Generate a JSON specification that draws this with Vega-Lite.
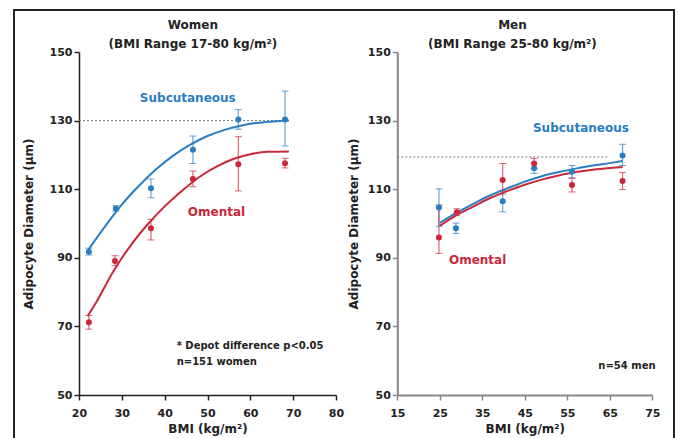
{
  "$schema": "https://vega.github.io/schema/vega-lite/v6.json",
  "width": 660,
  "height": 430,
  "autosize": {"type": "none"},
  "padding": {"left": 14, "top": 10, "right": 4, "bottom": 0},
  "background": "white",
  "config": {
    "view": {"stroke": "#222", "strokeWidth": 2},
    "font": "DejaVu Sans",
    "axis": {
      "grid": false,
      "labelFont": "DejaVu Sans", "labelFontWeight": "bold", "labelFontSize": 11, "labelColor": "#222",
      "titleFont": "DejaVu Sans", "titleFontWeight": "bold", "titleFontSize": 12, "titleColor": "#222",
      "tickSize": 5, "domainColor": "#222", "tickColor": "#222", "domainWidth": 1.5, "tickWidth": 1.5,
      "labelFlush": false, "labelOverlap": false
    }
  },
  "datasets": {
    "pts": [
      {"panel": "Women", "depot": "Subcutaneous", "bmi": 22.3, "d": 91.8, "lo": 90.8, "hi": 92.8},
      {"panel": "Women", "depot": "Subcutaneous", "bmi": 28.6, "d": 104.4, "lo": 103.6, "hi": 105.2},
      {"panel": "Women", "depot": "Subcutaneous", "bmi": 36.8, "d": 110.3, "lo": 107.5, "hi": 113.0},
      {"panel": "Women", "depot": "Subcutaneous", "bmi": 46.6, "d": 121.5, "lo": 117.5, "hi": 125.5},
      {"panel": "Women", "depot": "Subcutaneous", "bmi": 57.2, "d": 130.3, "lo": 127.5, "hi": 133.2},
      {"panel": "Women", "depot": "Subcutaneous", "bmi": 68.1, "d": 130.3, "lo": 122.6, "hi": 138.6},
      {"panel": "Women", "depot": "Omental", "bmi": 22.3, "d": 71.2, "lo": 69.2, "hi": 73.2},
      {"panel": "Women", "depot": "Omental", "bmi": 28.4, "d": 89.1, "lo": 87.7, "hi": 90.6},
      {"panel": "Women", "depot": "Omental", "bmi": 36.8, "d": 98.6, "lo": 95.2, "hi": 101.2},
      {"panel": "Women", "depot": "Omental", "bmi": 46.6, "d": 113.0, "lo": 110.7, "hi": 115.3},
      {"panel": "Women", "depot": "Omental", "bmi": 57.2, "d": 117.3, "lo": 109.5, "hi": 125.3},
      {"panel": "Women", "depot": "Omental", "bmi": 68.1, "d": 117.6, "lo": 116.2, "hi": 119.0},
      {"panel": "Men", "depot": "Subcutaneous", "bmi": 24.8, "d": 104.7, "lo": 99.2, "hi": 110.1},
      {"panel": "Men", "depot": "Subcutaneous", "bmi": 28.8, "d": 98.6, "lo": 97.1, "hi": 100.1},
      {"panel": "Men", "depot": "Subcutaneous", "bmi": 39.8, "d": 106.5, "lo": 103.4, "hi": 109.6},
      {"panel": "Men", "depot": "Subcutaneous", "bmi": 47.2, "d": 116.1, "lo": 114.6, "hi": 117.6},
      {"panel": "Men", "depot": "Subcutaneous", "bmi": 56.1, "d": 115.1, "lo": 113.3, "hi": 116.9},
      {"panel": "Men", "depot": "Subcutaneous", "bmi": 68.0, "d": 119.8, "lo": 116.9, "hi": 123.1},
      {"panel": "Men", "depot": "Omental", "bmi": 24.8, "d": 95.9, "lo": 91.3, "hi": 105.4},
      {"panel": "Men", "depot": "Omental", "bmi": 29.0, "d": 103.3, "lo": 102.3, "hi": 104.3},
      {"panel": "Men", "depot": "Omental", "bmi": 39.8, "d": 112.7, "lo": 108.6, "hi": 117.5},
      {"panel": "Men", "depot": "Omental", "bmi": 47.2, "d": 117.5, "lo": 116.0, "hi": 119.0},
      {"panel": "Men", "depot": "Omental", "bmi": 56.1, "d": 111.2, "lo": 109.2, "hi": 113.2},
      {"panel": "Men", "depot": "Omental", "bmi": 68.0, "d": 112.4, "lo": 109.9, "hi": 114.9}
    ],
    "fits": [
      {"panel": "Women", "depot": "Subcutaneous", "bmi": 22, "d": 92.0},
      {"panel": "Women", "depot": "Subcutaneous", "bmi": 26, "d": 99.0},
      {"panel": "Women", "depot": "Subcutaneous", "bmi": 30, "d": 105.5},
      {"panel": "Women", "depot": "Subcutaneous", "bmi": 34, "d": 111.0},
      {"panel": "Women", "depot": "Subcutaneous", "bmi": 38, "d": 115.8},
      {"panel": "Women", "depot": "Subcutaneous", "bmi": 42, "d": 119.8},
      {"panel": "Women", "depot": "Subcutaneous", "bmi": 46, "d": 123.0},
      {"panel": "Women", "depot": "Subcutaneous", "bmi": 50, "d": 125.5},
      {"panel": "Women", "depot": "Subcutaneous", "bmi": 54, "d": 127.3},
      {"panel": "Women", "depot": "Subcutaneous", "bmi": 58, "d": 128.6},
      {"panel": "Women", "depot": "Subcutaneous", "bmi": 62, "d": 129.4},
      {"panel": "Women", "depot": "Subcutaneous", "bmi": 66, "d": 129.8},
      {"panel": "Women", "depot": "Subcutaneous", "bmi": 69, "d": 130.0},
      {"panel": "Women", "depot": "Omental", "bmi": 22, "d": 73.0},
      {"panel": "Women", "depot": "Omental", "bmi": 24, "d": 77.0},
      {"panel": "Women", "depot": "Omental", "bmi": 28, "d": 86.0},
      {"panel": "Women", "depot": "Omental", "bmi": 32, "d": 93.5},
      {"panel": "Women", "depot": "Omental", "bmi": 36, "d": 99.7},
      {"panel": "Women", "depot": "Omental", "bmi": 40, "d": 105.0},
      {"panel": "Women", "depot": "Omental", "bmi": 44, "d": 109.5},
      {"panel": "Women", "depot": "Omental", "bmi": 48, "d": 113.5},
      {"panel": "Women", "depot": "Omental", "bmi": 52, "d": 116.5},
      {"panel": "Women", "depot": "Omental", "bmi": 56, "d": 118.8},
      {"panel": "Women", "depot": "Omental", "bmi": 60, "d": 120.2},
      {"panel": "Women", "depot": "Omental", "bmi": 64, "d": 120.9},
      {"panel": "Women", "depot": "Omental", "bmi": 69, "d": 121.0},
      {"panel": "Men", "depot": "Subcutaneous", "bmi": 25, "d": 100.2},
      {"panel": "Men", "depot": "Subcutaneous", "bmi": 29, "d": 103.2},
      {"panel": "Men", "depot": "Subcutaneous", "bmi": 33, "d": 105.8},
      {"panel": "Men", "depot": "Subcutaneous", "bmi": 37, "d": 108.3},
      {"panel": "Men", "depot": "Subcutaneous", "bmi": 41, "d": 110.3},
      {"panel": "Men", "depot": "Subcutaneous", "bmi": 45, "d": 112.2},
      {"panel": "Men", "depot": "Subcutaneous", "bmi": 49, "d": 113.8},
      {"panel": "Men", "depot": "Subcutaneous", "bmi": 53, "d": 115.0},
      {"panel": "Men", "depot": "Subcutaneous", "bmi": 57, "d": 116.0},
      {"panel": "Men", "depot": "Subcutaneous", "bmi": 61, "d": 116.9},
      {"panel": "Men", "depot": "Subcutaneous", "bmi": 65, "d": 117.6},
      {"panel": "Men", "depot": "Subcutaneous", "bmi": 68, "d": 118.2},
      {"panel": "Men", "depot": "Omental", "bmi": 25, "d": 99.3},
      {"panel": "Men", "depot": "Omental", "bmi": 29, "d": 102.5},
      {"panel": "Men", "depot": "Omental", "bmi": 33, "d": 105.0},
      {"panel": "Men", "depot": "Omental", "bmi": 37, "d": 107.5},
      {"panel": "Men", "depot": "Omental", "bmi": 41, "d": 109.5},
      {"panel": "Men", "depot": "Omental", "bmi": 45, "d": 111.3},
      {"panel": "Men", "depot": "Omental", "bmi": 49, "d": 112.8},
      {"panel": "Men", "depot": "Omental", "bmi": 53, "d": 114.0},
      {"panel": "Men", "depot": "Omental", "bmi": 57, "d": 115.0},
      {"panel": "Men", "depot": "Omental", "bmi": 61, "d": 115.7},
      {"panel": "Men", "depot": "Omental", "bmi": 65, "d": 116.2},
      {"panel": "Men", "depot": "Omental", "bmi": 68, "d": 116.5}
    ],
    "refs": [
      {"panel": "Women", "from": 20, "to": 69.5, "level": 130},
      {"panel": "Men", "from": 15, "to": 64.8, "level": 119.4}
    ],
    "titles": [
      {"panel": "Women", "text": "Women", "bmi": 46.6, "d": 158.0},
      {"panel": "Women", "text": "(BMI Range 17-80 kg/m²)", "bmi": 46.6, "d": 152.4},
      {"panel": "Men", "text": "Men", "bmi": 42.1, "d": 158.0},
      {"panel": "Men", "text": "(BMI Range 25-80 kg/m²)", "bmi": 42.1, "d": 152.4}
    ],
    "labels": [
      {"panel": "Women", "depot": "Subcutaneous", "text": "Subcutaneous", "bmi": 45.4, "d": 136.7},
      {"panel": "Women", "depot": "Omental", "text": "Omental", "bmi": 52.1, "d": 103.4},
      {"panel": "Men", "depot": "Subcutaneous", "text": "Subcutaneous", "bmi": 58.2, "d": 127.7},
      {"panel": "Men", "depot": "Omental", "text": "Omental", "bmi": 33.9, "d": 89.4}
    ],
    "notes": [
      {"panel": "Women", "text": "* Depot difference p<0.05", "bmi": 42.8, "d": 64.4},
      {"panel": "Women", "text": "n=151 women", "bmi": 42.8, "d": 59.7},
      {"panel": "Men", "text": "n=54 men", "bmi": 62.3, "d": 58.5}
    ]
  },
  "layer": [
    {
      "layer": [
        {
          "data": {"name": "refs"},
          "transform": [{"filter": "datum.panel === 'Women'"}],
          "mark": {"type": "rule", "strokeDash": [2, 2], "color": "#777", "strokeWidth": 1},
          "encoding": {
            "x": {"field": "from", "type": "quantitative", "title": "BMI (kg/m²)",
                  "scale": {"domain": [20, 80], "range": [65, 322], "zero": false, "nice": false},
                  "axis": {"orient": "bottom", "offset": -45, "values": [20, 30, 40, 50, 60, 70, 80], "title": "BMI (kg/m²)", "labelPadding": 7, "titlePadding": 5}},
            "x2": {"field": "to"},
            "y": {"field": "level", "type": "quantitative", "title": "Adipocyte Diameter (µm)",
                  "scale": {"domain": [50, 150], "range": [385, 42], "zero": false, "nice": false},
                  "axis": {"orient": "left", "offset": -65, "values": [50, 70, 90, 110, 130, 150], "title": "Adipocyte Diameter (µm)", "labelPadding": 2, "titlePadding": 14}}
          }
        },
        {
          "data": {"name": "fits"},
          "transform": [{"filter": "datum.panel === 'Women'"}],
          "mark": {"type": "line", "strokeWidth": 2, "interpolate": "monotone"},
          "encoding": {
            "x": {"field": "bmi", "type": "quantitative", "title": "BMI (kg/m²)", "scale": {"domain": [20, 80], "range": [65, 322], "zero": false, "nice": false}},
            "y": {"field": "d", "type": "quantitative", "title": "Adipocyte Diameter (µm)", "scale": {"domain": [50, 150], "range": [385, 42], "zero": false, "nice": false}},
            "color": {"field": "depot", "type": "nominal", "scale": {"domain": ["Subcutaneous", "Omental"], "range": ["#2a7dc2", "#c9283b"]}, "legend": null}
          }
        },
        {
          "data": {"name": "pts"},
          "transform": [{"filter": "datum.panel === 'Women'"}],
          "mark": {"type": "errorbar", "ticks": {"size": 7, "opacity": 0.7}, "rule": {"opacity": 0.7, "strokeWidth": 1.2}},
          "encoding": {
            "x": {"field": "bmi", "type": "quantitative", "title": "BMI (kg/m²)", "scale": {"domain": [20, 80], "range": [65, 322], "zero": false, "nice": false}},
            "y": {"field": "lo", "type": "quantitative", "title": "Adipocyte Diameter (µm)", "scale": {"domain": [50, 150], "range": [385, 42], "zero": false, "nice": false}},
            "y2": {"field": "hi"},
            "color": {"field": "depot", "type": "nominal", "legend": null}
          }
        },
        {
          "data": {"name": "pts"},
          "transform": [{"filter": "datum.panel === 'Women'"}],
          "mark": {"type": "circle", "size": 36, "opacity": 1},
          "encoding": {
            "x": {"field": "bmi", "type": "quantitative", "title": "BMI (kg/m²)", "scale": {"domain": [20, 80], "range": [65, 322], "zero": false, "nice": false}},
            "y": {"field": "d", "type": "quantitative", "title": "Adipocyte Diameter (µm)", "scale": {"domain": [50, 150], "range": [385, 42], "zero": false, "nice": false}},
            "color": {"field": "depot", "type": "nominal", "legend": null}
          }
        },
        {
          "data": {"name": "labels"},
          "transform": [{"filter": "datum.panel === 'Women'"}],
          "mark": {"type": "text", "font": "DejaVu Sans", "fontWeight": "bold", "fontSize": 12, "align": "center", "baseline": "middle"},
          "encoding": {
            "x": {"field": "bmi", "type": "quantitative", "title": "BMI (kg/m²)", "scale": {"domain": [20, 80], "range": [65, 322], "zero": false, "nice": false}},
            "y": {"field": "d", "type": "quantitative", "title": "Adipocyte Diameter (µm)", "scale": {"domain": [50, 150], "range": [385, 42], "zero": false, "nice": false}},
            "text": {"field": "text"},
            "color": {"field": "depot", "type": "nominal", "legend": null}
          }
        },
        {
          "data": {"name": "notes"},
          "transform": [{"filter": "datum.panel === 'Women'"}],
          "mark": {"type": "text", "font": "DejaVu Sans", "fontWeight": "bold", "fontSize": 10, "align": "left", "baseline": "middle", "color": "#222"},
          "encoding": {
            "x": {"field": "bmi", "type": "quantitative", "title": "BMI (kg/m²)", "scale": {"domain": [20, 80], "range": [65, 322], "zero": false, "nice": false}},
            "y": {"field": "d", "type": "quantitative", "title": "Adipocyte Diameter (µm)", "scale": {"domain": [50, 150], "range": [385, 42], "zero": false, "nice": false}},
            "text": {"field": "text"}
          }
        },
        {
          "data": {"name": "titles"},
          "transform": [{"filter": "datum.panel === 'Women'"}],
          "mark": {"type": "text", "font": "DejaVu Sans", "fontWeight": "bold", "fontSize": 12, "align": "center", "baseline": "middle", "color": "#222"},
          "encoding": {
            "x": {"field": "bmi", "type": "quantitative", "title": "BMI (kg/m²)", "scale": {"domain": [20, 80], "range": [65, 322], "zero": false, "nice": false}},
            "y": {"field": "d", "type": "quantitative", "title": "Adipocyte Diameter (µm)", "scale": {"domain": [50, 150], "range": [385, 42], "zero": false, "nice": false}},
            "text": {"field": "text"}
          }
        }
      ]
    },
    {
      "layer": [
        {
          "data": {"name": "refs"},
          "transform": [{"filter": "datum.panel === 'Men'"}],
          "mark": {"type": "rule", "strokeDash": [2, 2], "color": "#777", "strokeWidth": 1},
          "encoding": {
            "x": {"field": "from", "type": "quantitative", "title": "BMI (kg/m²)",
                  "scale": {"domain": [15, 75], "range": [383.3, 638.3], "zero": false, "nice": false},
                  "axis": {"orient": "bottom", "offset": -45, "values": [15, 25, 35, 45, 55, 65, 75], "title": "BMI (kg/m²)", "labelPadding": 7, "titlePadding": 5, "domainColor": "#888", "tickColor": "#888", "domainWidth": 2}},
            "x2": {"field": "to"},
            "y": {"field": "level", "type": "quantitative", "title": "Adipocyte Diameter (µm)",
                  "scale": {"domain": [50, 150], "range": [385, 42], "zero": false, "nice": false},
                  "axis": {"orient": "left", "offset": -383.3, "values": [50, 70, 90, 110, 130, 150], "title": "Adipocyte Diameter (µm)", "labelPadding": 2, "titlePadding": 7, "domainColor": "#888", "tickColor": "#888", "domainWidth": 2}}
          }
        },
        {
          "data": {"name": "fits"},
          "transform": [{"filter": "datum.panel === 'Men'"}],
          "mark": {"type": "line", "strokeWidth": 2, "interpolate": "monotone"},
          "encoding": {
            "x": {"field": "bmi", "type": "quantitative", "title": "BMI (kg/m²)", "scale": {"domain": [15, 75], "range": [383.3, 638.3], "zero": false, "nice": false}},
            "y": {"field": "d", "type": "quantitative", "title": "Adipocyte Diameter (µm)", "scale": {"domain": [50, 150], "range": [385, 42], "zero": false, "nice": false}},
            "color": {"field": "depot", "type": "nominal", "legend": null}
          }
        },
        {
          "data": {"name": "pts"},
          "transform": [{"filter": "datum.panel === 'Men'"}],
          "mark": {"type": "errorbar", "ticks": {"size": 7, "opacity": 0.7}, "rule": {"opacity": 0.7, "strokeWidth": 1.2}},
          "encoding": {
            "x": {"field": "bmi", "type": "quantitative", "title": "BMI (kg/m²)", "scale": {"domain": [15, 75], "range": [383.3, 638.3], "zero": false, "nice": false}},
            "y": {"field": "lo", "type": "quantitative", "title": "Adipocyte Diameter (µm)", "scale": {"domain": [50, 150], "range": [385, 42], "zero": false, "nice": false}},
            "y2": {"field": "hi"},
            "color": {"field": "depot", "type": "nominal", "legend": null}
          }
        },
        {
          "data": {"name": "pts"},
          "transform": [{"filter": "datum.panel === 'Men'"}],
          "mark": {"type": "circle", "size": 36, "opacity": 1},
          "encoding": {
            "x": {"field": "bmi", "type": "quantitative", "title": "BMI (kg/m²)", "scale": {"domain": [15, 75], "range": [383.3, 638.3], "zero": false, "nice": false}},
            "y": {"field": "d", "type": "quantitative", "title": "Adipocyte Diameter (µm)", "scale": {"domain": [50, 150], "range": [385, 42], "zero": false, "nice": false}},
            "color": {"field": "depot", "type": "nominal", "legend": null}
          }
        },
        {
          "data": {"name": "labels"},
          "transform": [{"filter": "datum.panel === 'Men'"}],
          "mark": {"type": "text", "font": "DejaVu Sans", "fontWeight": "bold", "fontSize": 12, "align": "center", "baseline": "middle"},
          "encoding": {
            "x": {"field": "bmi", "type": "quantitative", "title": "BMI (kg/m²)", "scale": {"domain": [15, 75], "range": [383.3, 638.3], "zero": false, "nice": false}},
            "y": {"field": "d", "type": "quantitative", "title": "Adipocyte Diameter (µm)", "scale": {"domain": [50, 150], "range": [385, 42], "zero": false, "nice": false}},
            "text": {"field": "text"},
            "color": {"field": "depot", "type": "nominal", "legend": null}
          }
        },
        {
          "data": {"name": "notes"},
          "transform": [{"filter": "datum.panel === 'Men'"}],
          "mark": {"type": "text", "font": "DejaVu Sans", "fontWeight": "bold", "fontSize": 10, "align": "left", "baseline": "middle", "color": "#222"},
          "encoding": {
            "x": {"field": "bmi", "type": "quantitative", "title": "BMI (kg/m²)", "scale": {"domain": [15, 75], "range": [383.3, 638.3], "zero": false, "nice": false}},
            "y": {"field": "d", "type": "quantitative", "title": "Adipocyte Diameter (µm)", "scale": {"domain": [50, 150], "range": [385, 42], "zero": false, "nice": false}},
            "text": {"field": "text"}
          }
        },
        {
          "data": {"name": "titles"},
          "transform": [{"filter": "datum.panel === 'Men'"}],
          "mark": {"type": "text", "font": "DejaVu Sans", "fontWeight": "bold", "fontSize": 12, "align": "center", "baseline": "middle", "color": "#222"},
          "encoding": {
            "x": {"field": "bmi", "type": "quantitative", "title": "BMI (kg/m²)", "scale": {"domain": [15, 75], "range": [383.3, 638.3], "zero": false, "nice": false}},
            "y": {"field": "d", "type": "quantitative", "title": "Adipocyte Diameter (µm)", "scale": {"domain": [50, 150], "range": [385, 42], "zero": false, "nice": false}},
            "text": {"field": "text"}
          }
        }
      ]
    }
  ],
  "resolve": {"scale": {"x": "independent", "y": "independent"}}
}
